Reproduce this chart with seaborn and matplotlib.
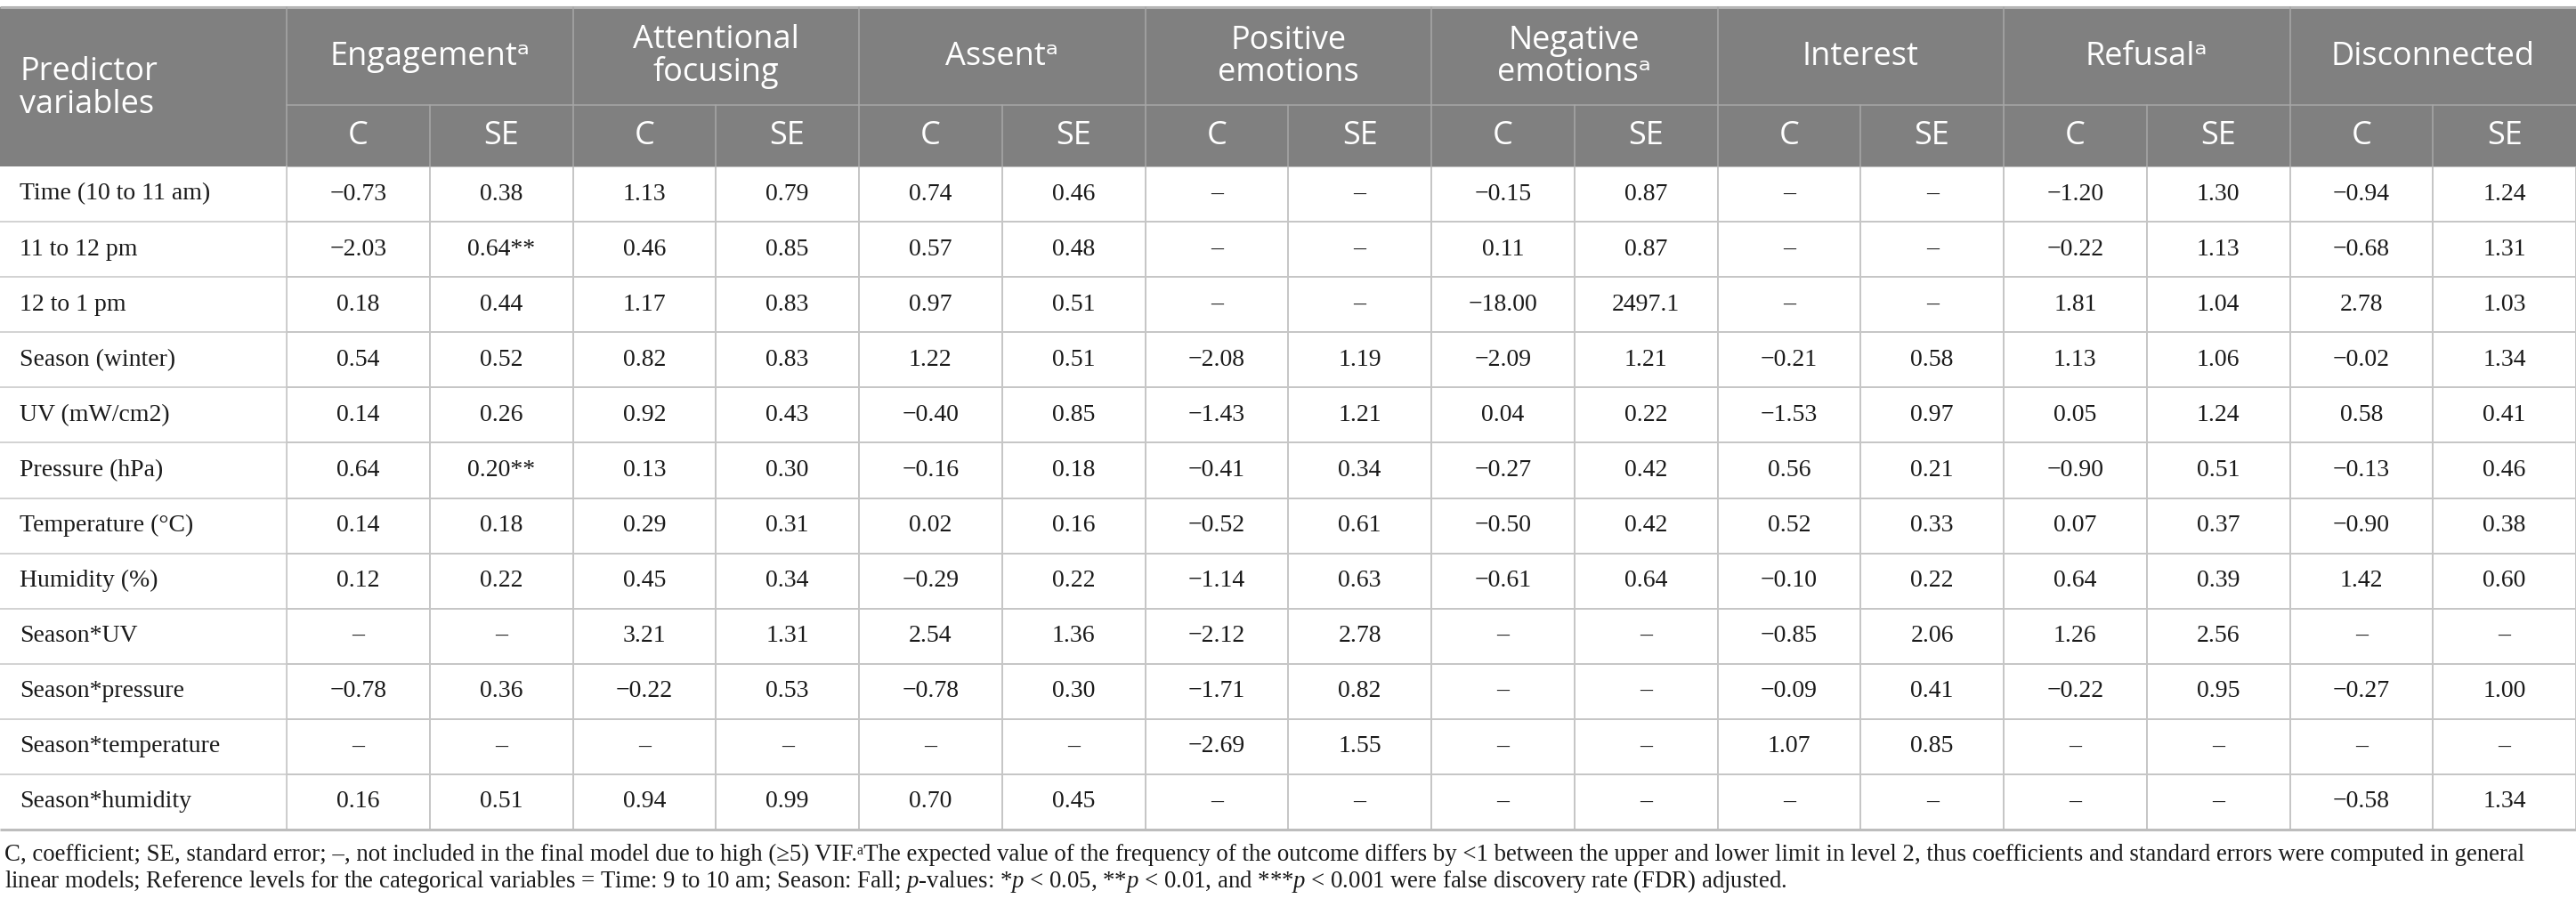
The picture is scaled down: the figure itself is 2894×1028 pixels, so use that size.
import numpy as np
import matplotlib
matplotlib.use("Agg")
import matplotlib.pyplot as plt
from matplotlib.patches import Rectangle
from matplotlib.colors import ListedColormap
import seaborn as sns

# ---------------- data ----------------
outcomes = ["Engagementᵃ", "Attentional\nfocusing", "Assentᵃ", "Positive\nemotions",
            "Negative\nemotionsᵃ", "Interest", "Refusalᵃ", "Disconnected"]
sub_cols = ["C", "SE"]
predictors = ["Time (10 to 11 am)", "11 to 12 pm", "12 to 1 pm", "Season (winter)",
              "UV (mW/cm2)", "Pressure (hPa)", "Temperature (°C)", "Humidity (%)",
              "Season*UV", "Season*pressure", "Season*temperature", "Season*humidity"]

engagement_c  = ["−0.73", "−2.03", "0.18", "0.54", "0.14", "0.64", "0.14", "0.12", "–", "−0.78", "–", "0.16"]
engagement_se = ["0.38", "0.64**", "0.44", "0.52", "0.26", "0.20**", "0.18", "0.22", "–", "0.36", "–", "0.51"]
attention_c   = ["1.13", "0.46", "1.17", "0.82", "0.92", "0.13", "0.29", "0.45", "3.21", "−0.22", "–", "0.94"]
attention_se  = ["0.79", "0.85", "0.83", "0.83", "0.43", "0.30", "0.31", "0.34", "1.31", "0.53", "–", "0.99"]
assent_c      = ["0.74", "0.57", "0.97", "1.22", "−0.40", "−0.16", "0.02", "−0.29", "2.54", "−0.78", "–", "0.70"]
assent_se     = ["0.46", "0.48", "0.51", "0.51", "0.85", "0.18", "0.16", "0.22", "1.36", "0.30", "–", "0.45"]
positive_c    = ["–", "–", "–", "−2.08", "−1.43", "−0.41", "−0.52", "−1.14", "−2.12", "−1.71", "−2.69", "–"]
positive_se   = ["–", "–", "–", "1.19", "1.21", "0.34", "0.61", "0.63", "2.78", "0.82", "1.55", "–"]
negative_c    = ["−0.15", "0.11", "−18.00", "−2.09", "0.04", "−0.27", "−0.50", "−0.61", "–", "–", "–", "–"]
negative_se   = ["0.87", "0.87", "2497.1", "1.21", "0.22", "0.42", "0.42", "0.64", "–", "–", "–", "–"]
interest_c    = ["–", "–", "–", "−0.21", "−1.53", "0.56", "0.52", "−0.10", "−0.85", "−0.09", "1.07", "–"]
interest_se   = ["–", "–", "–", "0.58", "0.97", "0.21", "0.33", "0.22", "2.06", "0.41", "0.85", "–"]
refusal_c     = ["−1.20", "−0.22", "1.81", "1.13", "0.05", "−0.90", "0.07", "0.64", "1.26", "−0.22", "–", "–"]
refusal_se    = ["1.30", "1.13", "1.04", "1.06", "1.24", "0.51", "0.37", "0.39", "2.56", "0.95", "–", "–"]
disconn_c     = ["−0.94", "−0.68", "2.78", "−0.02", "0.58", "−0.13", "−0.90", "1.42", "–", "−0.27", "–", "−0.58"]
disconn_se    = ["1.24", "1.31", "1.03", "1.34", "0.41", "0.46", "0.38", "0.60", "–", "1.00", "–", "1.34"]

footnote_1 = ("C, coefficient; SE, standard error; –, not included in the final model due to high (≥5) VIF.ᵃThe expected "
              "value of the frequency of the outcome differs by <1 between the upper and lower limit in level 2, thus "
              "coefficients and standard errors were computed in general")
footnote_2 = ("linear models; Reference levels for the categorical variables = Time: 9 to 10 am; Season: Fall; "
              "$p$-values: *$p$ < 0.05, **$p$ < 0.01, and ***$p$ < 0.001 were false discovery rate (FDR) adjusted.")

columns = [engagement_c, engagement_se, attention_c, attention_se, assent_c, assent_se,
           positive_c, positive_se, negative_c, negative_se, interest_c, interest_se,
           refusal_c, refusal_se, disconn_c, disconn_se]
annot = np.array(columns, dtype=object).T

# ---------------- style ----------------
sns.set_theme(style="white")
SERIF = ["Liberation Serif", "DejaVu Serif"]
SANS = ["Open Sans", "DejaVu Sans"]
plt.rcParams["font.family"] = SERIF
plt.rcParams["mathtext.fontset"] = "custom"
plt.rcParams["mathtext.rm"] = "Liberation Serif"
plt.rcParams["mathtext.it"] = "Liberation Serif:italic"

HEADER = "#808080"
HLINE = "#a8a8a8"
BLINE = "#c6c6c6"
TXT = "#1a1a1a"

W, H = 2894, 1028
x0 = 322
top, h1, h2, bottom = 8, 118, 187, 932
nrows = len(predictors)
row_h = (bottom - h2) / nrows
group_w = (W - x0) / len(outcomes)
sub_w = group_w / 2

fig = plt.figure(figsize=(W / 100, H / 100), dpi=100)

# body grid via seaborn heatmap
hax = fig.add_axes([x0 / W, 1 - bottom / H, (W - x0) / W, (bottom - h2) / H])
sns.heatmap(np.zeros(annot.shape), ax=hax, cmap=ListedColormap(["white"]), cbar=False,
            annot=annot, fmt="", linewidths=1.1, linecolor=BLINE,
            xticklabels=False, yticklabels=False,
            annot_kws={"fontsize": 20, "family": SERIF, "color": TXT})
hax.set_xlim(0, annot.shape[1])
hax.set_ylim(annot.shape[0], 0)

# overlay axes in pixel coords
ax = fig.add_axes([0, 0, 1, 1])
ax.set_zorder(2)
ax.set_xlim(0, W)
ax.set_ylim(H, 0)
ax.axis("off")

# header background
ax.add_patch(Rectangle((0, top), W, h2 - top, facecolor=HEADER, edgecolor="none"))
ax.plot([0, W], [top, top], color="#b5b5b5", lw=2.2, solid_capstyle="butt")
ax.plot([x0, W], [h1, h1], color=HLINE, lw=1.1)
ax.plot([x0, x0], [top, h2], color=HLINE, lw=1.1)
for g in range(1, len(outcomes)):
    xg = x0 + g * group_w
    ax.plot([xg, xg], [top, h2], color=HLINE, lw=1.1)
for g in range(len(outcomes)):
    xs = x0 + g * group_w + sub_w
    ax.plot([xs, xs], [h1, h2], color=HLINE, lw=1.1)

ax.text(22, (top + h2) / 2 + 2, "Predictor\nvariables", ha="left", va="center", color="white",
        fontsize=26, family=SANS, linespacing=1.05)
for g, name in enumerate(outcomes):
    cx = x0 + (g + 0.5) * group_w
    ax.text(cx, (top + h1) / 2 + 1, name, ha="center", va="center", color="white",
            fontsize=26, family=SANS, linespacing=1.0)
    for s, sc in enumerate(sub_cols):
        ax.text(x0 + g * group_w + (s + 0.5) * sub_w, (h1 + h2) / 2, sc, ha="center", va="center",
                color="white", fontsize=26, family=SANS)

# predictor column
for i, p in enumerate(predictors):
    yc = h2 + (i + 0.5) * row_h
    ax.text(22, yc, p, ha="left", va="center", fontsize=20, family=SERIF, color=TXT)
    if i > 0:
        ax.plot([0, x0], [h2 + i * row_h] * 2, color=BLINE, lw=1.1)
ax.plot([x0, x0], [h2, bottom], color=BLINE, lw=1.1)
ax.plot([0, W], [bottom, bottom], color="#bdbdbd", lw=2.2, solid_capstyle="butt")

# footnotes, fitted to width
t1 = ax.text(5, 960, footnote_1, ha="left", va="center", fontsize=20, family=SERIF, color=TXT)
t2 = ax.text(5, 990, footnote_2, ha="left", va="center", fontsize=20, family=SERIF, color=TXT)
fig.canvas.draw()
r = fig.canvas.get_renderer()
wid = t1.get_window_extent(renderer=r).width
fs = 20 * 2833 / wid
t1.set_fontsize(fs)
t2.set_fontsize(fs)

fig.savefig("out.png", dpi=100)
